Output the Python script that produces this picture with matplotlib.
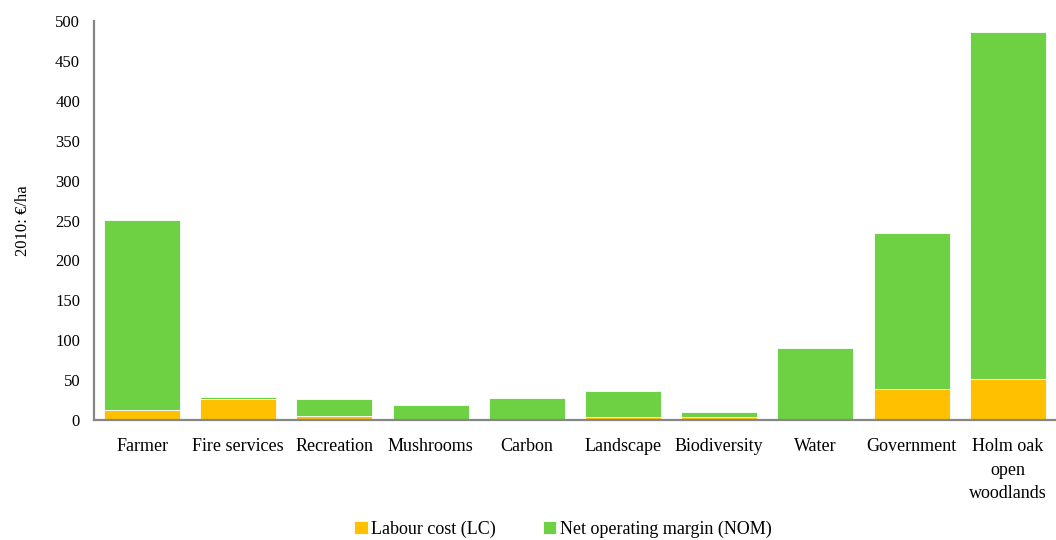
import matplotlib

matplotlib.use("Agg")
import matplotlib.pyplot as plt
import numpy as np

categories = ["Farmer", "Fire services", "Recreation", "Mushrooms", "Carbon",
              "Landscape", "Biodiversity", "Water", "Government", "Holm oak\nopen\nwoodlands"]
labour_cost = [12.5, 26, 5, 0, 0, 3.5, 3.5, 0, 39, 51.5]
net_operating_margin = [238.5, 2.5, 21.5, 19, 28, 32.5, 6.5, 90, 195, 434.5]

ORANGE = "#FFC000"
GREEN = "#6DD143"
AXIS = "#868686"

plt.rcParams["font.family"] = ["Liberation Serif", "DejaVu Serif"]
plt.rcParams["font.size"] = 13

fig = plt.figure(figsize=(10.56, 5.40), dpi=100)
ax = fig.add_axes([0.089, 0.222, 0.911, 0.739])

x = np.arange(len(categories))
ax.bar(x, labour_cost, width=0.79, color=ORANGE, edgecolor="white", linewidth=0.6, label="Labour cost (LC)")
ax.bar(x, net_operating_margin, width=0.79, bottom=labour_cost, color=GREEN, edgecolor="white",
       linewidth=0.6, label="Net operating margin (NOM)")

ax.set_xlim(-0.5, len(categories) - 0.5)
ax.set_ylim(0, 500)
ax.set_yticks(range(0, 501, 50))
ax.set_xticks(x)
ax.set_xticklabels(categories, va="top", linespacing=1.5)
ax.tick_params(axis="both", length=0, colors="black")
ax.tick_params(axis="y", labelsize=12, pad=10)
ax.tick_params(axis="x", pad=13)
for side in ("top", "right"):
    ax.spines[side].set_visible(False)
for side in ("left", "bottom"):
    ax.spines[side].set_color(AXIS)
    ax.spines[side].set_linewidth(1.6)
ax.set_ylabel("2010: €/ha", labelpad=17, fontsize=12)

fig.legend(loc="lower center", bbox_to_anchor=(0.533, -0.026), ncol=2, frameon=False,
           handlelength=0.75, handleheight=0.75, handletextpad=0.2, columnspacing=2.6)

fig.savefig("out.png")
